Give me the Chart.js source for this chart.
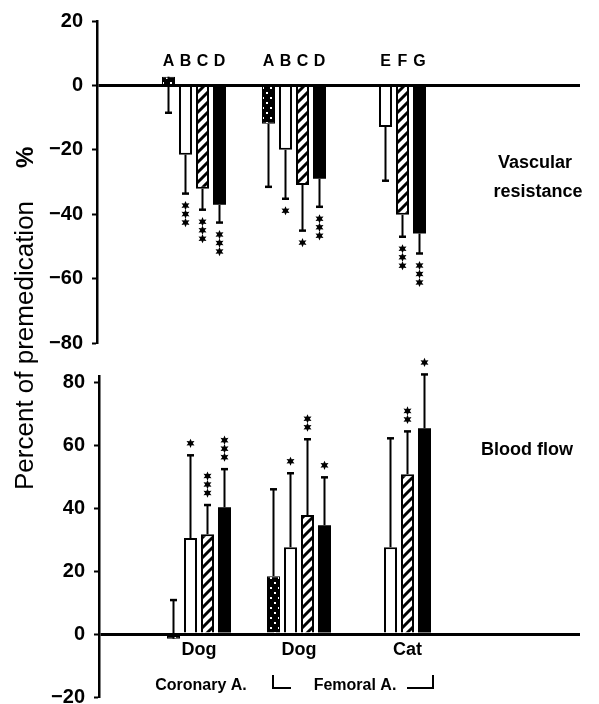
<!DOCTYPE html>
<html lang="en">
<head>
<meta charset="UTF-8" />
<title>Vascular resistance and blood flow</title>
<script src="https://cdn.jsdelivr.net/npm/chart.js@4"></script>
<style>
	html, body { margin: 0; padding: 0; background: #fff; overflow: hidden; }
	#wrap { position: relative; width: 599px; height: 704px; overflow: hidden; }
	#wrap canvas { position: absolute; left: 0; top: 0; }
</style>
</head>
<body>
<div id="wrap">
	<canvas id="flow" width="599" height="720"></canvas>
	<canvas id="resist" width="599" height="704"></canvas>
</div>
<script>
// groups along the x axis
const GROUPS = ['Dog', 'Dog', 'Cat'];
const GROUP_LETTERS = [['A', 'B', 'C', 'D'], ['A', 'B', 'C', 'D'], ['', 'E', 'F', 'G']];
const ARTERIES = ['Coronary A.', 'Femoral A.'];
const RESIST_TICKS = [20, 0, -20, -40, -60, -80];
const FLOW_TICKS = [80, 60, 40, 20, 0, -20];

// vascular resistance, % of premedication (one array per bar slot)
const VR_A = [2.7, -11.9, null];
const VR_B = [-21.5, -20, -12.9];
const VR_C = [-32.1, -30.9, -40.2];
const VR_D = [-37.1, -29, -46];
// tip of each error bar
const VR_A_ERR = [-8.5, -31.5, null];
const VR_B_ERR = [-33.6, -35.2, -29.6];
const VR_C_ERR = [-38.6, -45.1, -47];
const VR_D_ERR = [-42.6, -37.7, -52.2];
// number of significance stars
const VR_A_STARS = [0, 0, 0];
const VR_B_STARS = [3, 1, 0];
const VR_C_STARS = [3, 1, 3];
const VR_D_STARS = [3, 3, 3];

// blood flow, % of premedication
const BF_A = [-1.5, 18.4, null];
const BF_B = [30.5, 27.6, 27.6];
const BF_C = [31.7, 37.8, 50.8];
const BF_D = [40.3, 34.6, 65.4];
const BF_A_ERR = [10.8, 46, null];
const BF_B_ERR = [56.8, 51.1, 62.2];
const BF_C_ERR = [41, 61.9, 64.4];
const BF_D_ERR = [52.4, 49.8, 82.5];
const BF_A_STARS = [0, 0, 0];
const BF_B_STARS = [1, 1, 0];
const BF_C_STARS = [3, 2, 2];
const BF_D_STARS = [3, 1, 1];

const BOLD = '"Liberation Sans", Arial, sans-serif';

function hatchPattern(ctx) {
	const c = document.createElement('canvas');
	c.width = 10; c.height = 10;
	const g = c.getContext('2d');
	g.fillStyle = '#fff';
	g.fillRect(0, 0, 10, 10);
	g.strokeStyle = '#000';
	g.lineWidth = 3;
	g.beginPath();
	g.moveTo(-5, 5); g.lineTo(5, -5);
	g.moveTo(0, 10); g.lineTo(10, 0);
	g.moveTo(5, 15); g.lineTo(15, 5);
	g.stroke();
	return ctx.createPattern(c, 'repeat');
}

function dotPattern(ctx) {
	const c = document.createElement('canvas');
	c.width = 8; c.height = 10;
	const g = c.getContext('2d');
	g.fillStyle = '#000';
	g.fillRect(0, 0, 8, 10);
	g.fillStyle = '#fff';
	g.fillRect(2, 2, 2, 2);
	g.fillRect(6, 7, 2, 2);
	return ctx.createPattern(c, 'repeat');
}

// small filled six point star, like the plotter asterisks
function star(ctx, x, y) {
	ctx.beginPath();
	for (let k = 0; k < 12; k++) {
		const a = -Math.PI / 2 + k * Math.PI / 6;
		const r = k % 2 ? 2.3 : 4.6;
		const px = x + r * Math.cos(a), py = y + r * Math.sin(a);
		if (k === 0) ctx.moveTo(px, py); else ctx.lineTo(px, py);
	}
	ctx.closePath();
	ctx.fill();
}

// error bars + stars, dir = 1 draws stars below the tip, -1 above
function errorBars(errs, stars, dir) {
	return {
		id: 'errorBars',
		afterDatasetsDraw(chart) {
			const { ctx } = chart;
			const y = chart.scales.y;
			ctx.save();
			ctx.strokeStyle = '#000';
			ctx.fillStyle = '#000';
			chart.data.datasets.forEach((ds, s) => {
				chart.getDatasetMeta(s).data.forEach((bar, i) => {
					const tip = errs[s][i];
					if (tip === null) return;
					const yTip = y.getPixelForValue(tip);
					ctx.lineWidth = 2;
					ctx.beginPath();
					ctx.moveTo(bar.x, bar.y);
					ctx.lineTo(bar.x, yTip);
					ctx.stroke();
					ctx.lineWidth = 2.5;
					ctx.beginPath();
					ctx.moveTo(bar.x - 3.5, yTip);
					ctx.lineTo(bar.x + 3.5, yTip);
					ctx.stroke();
					for (let k = 0; k < stars[s][i]; k++) {
						star(ctx, bar.x, yTip + dir * (12 + 8.5 * k));
					}
				});
			});
			ctx.restore();
		}
	};
}

function buildChart(canvas, o) {
	const ctx = canvas.getContext('2d');
	const fills = [dotPattern(ctx), '#fff', hatchPattern(ctx), '#000'];
	const borders = [1, 2, 2, 0];
	return new Chart(ctx, {
		type: 'bar',
		data: {
			datasets: o.values.map((vals, s) => ({
				label: 'slot ' + s,
				data: vals.map((v, i) => ({ x: i + 1, y: v })),
				backgroundColor: fills[s],
				borderColor: '#000',
				borderWidth: borders[s],
				categoryPercentage: 0.68,
				barPercentage: 0.765,
			})),
		},
		options: {
			responsive: false,
			animation: false,
			events: [],
			layout: { padding: o.padding },
			plugins: { legend: { display: false }, tooltip: { enabled: false } },
			scales: {
				x: {
					type: 'linear',
					offset: false,
					min: o.xMin,
					max: o.xMax,
					afterBuildTicks: s => { s.ticks = GROUPS.map((g, i) => ({ value: i + 1 })); },
					ticks: { display: false },
					grid: { display: false, drawTicks: false },
					border: { display: false },
				},
				y: {
					min: o.yMin,
					max: o.yMax,
					z: 1,
					afterFit: s => { s.width = o.axisX; },
					afterBuildTicks: s => { s.ticks = o.ticks.map(v => ({ value: v })); },
					ticks: {
						color: '#000',
						padding: 9,
						font: { family: BOLD, size: 20, weight: 'bold' },
						callback: v => (v < 0 ? '\u2212' + Math.abs(v) : String(v)),
					},
					grid: {
						color: c => (c.tick && c.tick.value === 0 ? '#000' : 'rgba(0,0,0,0)'),
						lineWidth: c => (c.tick && c.tick.value === 0 ? 3 : 1),
						tickColor: '#000',
						tickWidth: 2,
						tickLength: 5,
					},
					border: { color: '#000', width: 2.5 },
				},
			},
		},
		plugins: [errorBars(o.errs, o.stars, o.dir), o.extra],
	});
}

function text(ctx, str, x, y, font, align) {
	ctx.font = font;
	ctx.textAlign = align || 'center';
	ctx.fillText(str, x, y);
}

const resistNotes = {
	id: 'resistNotes',
	afterDraw(chart) {
		const { ctx } = chart;
		ctx.save();
		ctx.fillStyle = '#000';
		ctx.textBaseline = 'alphabetic';
		chart.data.datasets.forEach((ds, s) => {
			chart.getDatasetMeta(s).data.forEach((bar, i) => {
				const letter = GROUP_LETTERS[i][s];
				if (letter) text(ctx, letter, bar.x, 66, 'bold 16px ' + BOLD);
			});
		});
		text(ctx, 'Vascular', 535, 168, 'bold 18px ' + BOLD);
		text(ctx, 'resistance', 538, 197, 'bold 18px ' + BOLD);

		ctx.save();
		ctx.translate(33, 490);
		ctx.rotate(-Math.PI / 2);
		text(ctx, 'Percent of premedication', 0, 0, '26px ' + BOLD, 'left');
		ctx.restore();
		ctx.save();
		ctx.translate(33, 168);
		ctx.rotate(-Math.PI / 2);
		text(ctx, '%', 0, 0, 'bold 24px ' + BOLD, 'left');
		ctx.restore();
		ctx.restore();
	}
};

const flowNotes = {
	id: 'flowNotes',
	afterDraw(chart) {
		const { ctx } = chart;
		ctx.save();
		ctx.fillStyle = '#000';
		ctx.strokeStyle = '#000';
		ctx.textBaseline = 'alphabetic';
		GROUPS.forEach((g, i) => {
			let sum = 0, n = 0;
			chart.data.datasets.forEach((ds, s) => {
				if (ds.data[i].y !== null) { sum += chart.getDatasetMeta(s).data[i].x; n++; }
			});
			text(ctx, g, sum / n, 655, 'bold 18px ' + BOLD);
		});
		text(ctx, ARTERIES[0], 201, 690, 'bold 16px ' + BOLD);
		text(ctx, ARTERIES[1], 355, 690, 'bold 16px ' + BOLD);
		ctx.lineWidth = 2;
		ctx.beginPath();
		ctx.moveTo(273, 675); ctx.lineTo(273, 688); ctx.lineTo(291, 688);
		ctx.moveTo(407, 688); ctx.lineTo(433, 688); ctx.lineTo(433, 675);
		ctx.stroke();
		text(ctx, 'Blood flow', 527, 455, 'bold 18px ' + BOLD);
		ctx.restore();
	}
};

buildChart(document.getElementById('resist'), {
	values: [VR_A, VR_B, VR_C, VR_D],
	errs: [VR_A_ERR, VR_B_ERR, VR_C_ERR, VR_D_ERR],
	stars: [VR_A_STARS, VR_B_STARS, VR_C_STARS, VR_D_STARS],
	dir: 1,
	yMin: -80, yMax: 20,
	ticks: RESIST_TICKS,
	xMin: 0.03, xMax: 4.86,
	axisX: 97,
	padding: { top: 21, bottom: 361, left: 0, right: 19 },
	extra: resistNotes,
});

buildChart(document.getElementById('flow'), {
	values: [BF_A, BF_B, BF_C, BF_D],
	errs: [BF_A_ERR, BF_B_ERR, BF_C_ERR, BF_D_ERR],
	stars: [BF_A_STARS, BF_B_STARS, BF_C_STARS, BF_D_STARS],
	dir: -1,
	yMin: -20, yMax: 82,
	ticks: FLOW_TICKS,
	xMin: 0, xMax: 4.81,
	axisX: 99,
	padding: { top: 376, bottom: 23, left: 0, right: 19 },
	extra: flowNotes,
});
</script>
</body>
</html>
